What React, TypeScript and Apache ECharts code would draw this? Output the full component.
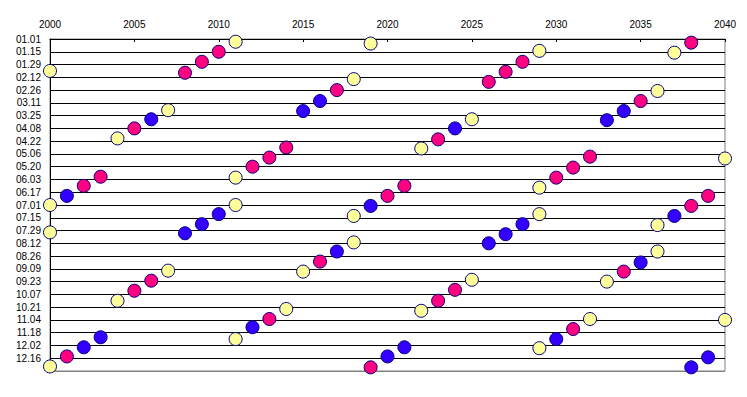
import React, { useEffect, useRef } from "react";
import * as echarts from "echarts";

// Year ticks (x axis, top)
const yearMin = 2000;
const yearMax = 2040;
const yearStep = 5;

// Day axis (y): labels every 14 days, leap reference year
const dayStep = 14;
const dayMax = 364;

// Points: [year, "MM.DD"]
const partialPoints: [number, string][] = [
  [2000, "02.05"], [2000, "07.01"], [2000, "07.31"], [2000, "12.25"],
  [2004, "04.19"], [2004, "10.14"],
  [2007, "03.19"], [2007, "09.11"],
  [2011, "01.04"], [2011, "06.01"], [2011, "07.01"], [2011, "11.25"],
  [2014, "10.23"],
  [2015, "09.12"],
  [2018, "02.14"], [2018, "07.13"], [2018, "08.11"],
  [2019, "01.06"],
  [2022, "04.30"], [2022, "10.25"],
  [2025, "03.29"], [2025, "09.21"],
  [2029, "01.14"], [2029, "06.12"], [2029, "07.11"], [2029, "12.05"],
  [2032, "11.03"],
  [2033, "09.23"],
  [2036, "02.27"], [2036, "07.23"], [2036, "08.21"],
  [2037, "01.16"],
  [2040, "05.11"], [2040, "11.04"],
];

const annularPoints: [number, string][] = [
  [2001, "12.14"],
  [2002, "06.10"],
  [2003, "05.31"],
  [2005, "04.08"], [2005, "10.03"],
  [2006, "09.22"],
  [2008, "02.07"],
  [2009, "01.26"],
  [2010, "01.15"],
  [2012, "05.20"],
  [2013, "05.10"], [2013, "11.03"],
  [2014, "04.29"],
  [2016, "09.01"],
  [2017, "02.26"],
  [2019, "12.26"],
  [2020, "06.21"],
  [2021, "06.10"],
  [2023, "04.20"], [2023, "10.14"],
  [2024, "10.02"],
  [2026, "02.17"],
  [2027, "02.06"],
  [2028, "01.26"],
  [2030, "06.01"],
  [2031, "05.21"], [2031, "11.14"],
  [2032, "05.09"],
  [2034, "09.12"],
  [2035, "03.09"],
  [2038, "01.05"], [2038, "07.02"],
  [2039, "06.21"],
];

const totalPoints: [number, string][] = [
  [2001, "06.21"],
  [2002, "12.04"],
  [2003, "11.23"],
  [2006, "03.29"],
  [2008, "08.01"],
  [2009, "07.22"],
  [2010, "07.11"],
  [2012, "11.12"],
  [2015, "03.20"],
  [2016, "03.09"],
  [2017, "08.21"],
  [2019, "07.02"],
  [2020, "12.14"],
  [2021, "12.04"],
  [2024, "04.08"],
  [2026, "08.12"],
  [2027, "08.02"],
  [2028, "07.22"],
  [2030, "11.25"],
  [2033, "03.30"],
  [2034, "03.20"],
  [2035, "09.02"],
  [2037, "07.13"],
  [2038, "12.26"],
  [2039, "12.15"],
];

const DAY_MS = 86400000;
const BASE = Date.UTC(2000, 0, 1);

function dayOf(md: string): number {
  const [m, d] = md.split(".").map(Number);
  return (Date.UTC(2000, m - 1, d) - BASE) / DAY_MS;
}

function labelOf(v: number): string {
  const dt = new Date(BASE + v * DAY_MS);
  const m = String(dt.getUTCMonth() + 1).padStart(2, "0");
  const d = String(dt.getUTCDate()).padStart(2, "0");
  return `${m}.${d}`;
}

const toData = (pts: [number, string][]) => pts.map(([y, md]) => [y, dayOf(md)]);

const FONT = "Liberation Sans, Arial, sans-serif";

export default function App() {
  const ref = useRef<HTMLDivElement>(null);
  useEffect(() => {
    document.body.style.margin = "0";
    if (!ref.current) return;
    const chart = echarts.init(ref.current, undefined, { renderer: "svg" });
    const nLines = dayMax / dayStep + 1;
    const splitColors = Array.from({ length: nLines }, (_, i) =>
      i === nLines - 1 ? "#808080" : "#000000"
    );
    const marker = (color: string) => ({
      color,
      borderColor: "#000080",
      borderWidth: 1,
      opacity: 1,
    });
    chart.setOption({
      animation: false,
      backgroundColor: "#ffffff",
      grid: {
        left: 50,
        right: 22,
        top: 39,
        bottom: 26,
        show: true,
        borderColor: "#808080",
        borderWidth: 1,
        backgroundColor: "transparent",
      },
      xAxis: {
        type: "value",
        position: "top",
        min: yearMin,
        max: yearMax,
        interval: yearStep,
        axisLine: { show: true, lineStyle: { color: "#000000", width: 1 } },
        axisTick: { show: true, inside: true, length: 3, lineStyle: { color: "#000000" } },
        axisLabel: {
          show: true,
          showMinLabel: true,
          showMaxLabel: true,
          color: "#000000",
          fontSize: 10,
          fontFamily: FONT,
          margin: 10,
          formatter: (v: number) => String(v),
        },
        splitLine: { show: false },
      },
      yAxis: {
        type: "value",
        inverse: true,
        min: 0,
        max: dayMax,
        interval: dayStep,
        axisLine: { show: true, onZero: false, lineStyle: { color: "#000000", width: 1 } },
        axisTick: { show: false },
        axisLabel: {
          show: true,
          showMinLabel: true,
          showMaxLabel: false,
          color: "#000000",
          fontSize: 10,
          fontFamily: FONT,
          margin: 9,
          formatter: (v: number) => (v >= dayMax ? "" : labelOf(v)),
        },
        splitLine: { show: true, lineStyle: { color: splitColors, width: 1 } },
      },
      series: [
        {
          name: "partial",
          type: "scatter",
          clip: false,
          symbol: "circle",
          symbolSize: 13,
          itemStyle: marker("#FFFF99"),
          data: toData(partialPoints),
        },
        {
          name: "annular",
          type: "scatter",
          clip: false,
          symbol: "circle",
          symbolSize: 13,
          itemStyle: marker("#FF0080"),
          data: toData(annularPoints),
        },
        {
          name: "total",
          type: "scatter",
          clip: false,
          symbol: "circle",
          symbolSize: 13,
          itemStyle: marker("#3300FF"),
          data: toData(totalPoints),
        },
      ],
    });
    return () => chart.dispose();
  }, []);
  return <div ref={ref} style={{ width: 747, height: 397 }} />;
}
